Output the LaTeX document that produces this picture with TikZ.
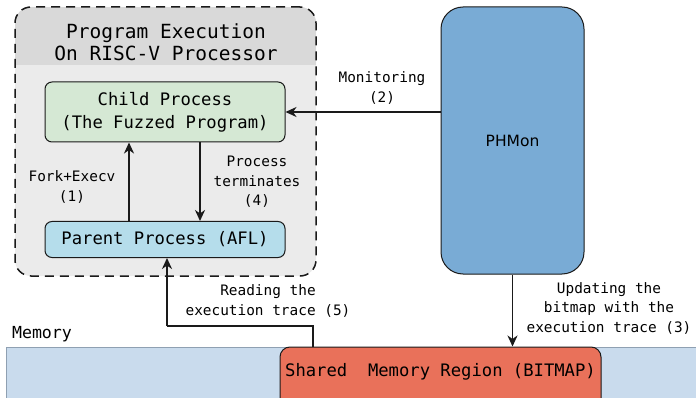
\documentclass[tikz,border=0pt]{standalone}
\usepackage{fontspec}
\setmainfont{DejaVu Sans}
\newfontfamily\monof{DejaVu Sans Mono}
\usetikzlibrary{arrows.meta,calc}
\definecolor{contbody}{HTML}{EBEBEB}
\definecolor{conthead}{HTML}{D9D9D9}
\definecolor{childfill}{HTML}{D5E8D4}
\definecolor{parentfill}{HTML}{B5DDEB}
\definecolor{phmonfill}{HTML}{79ABD5}
\definecolor{memfill}{HTML}{C9DBED}
\definecolor{memline}{HTML}{8FA0B2}
\definecolor{shmfill}{HTML}{E9715A}
\definecolor{edge}{HTML}{1A1A1A}
\tikzset{
  procbox/.style={draw=edge, line width=1pt, rounded corners=7pt, minimum width=240pt, align=center, inner sep=0pt,
    font=\monof\fontsize{17.2}{23}\selectfont},
  lbl/.style={align=center, inner sep=0pt, font=\monof\fontsize{14.4}{19.5}\selectfont},
  arr/.style={draw=edge, line width=1.9pt, -{Stealth[length=11pt,width=10pt,inset=3.5pt]}},
  plain/.style={draw=edge, line width=1.9pt},
}
\begin{document}
\begin{tikzpicture}[x=1pt,y=-1pt]
\useasboundingbox (0,0) rectangle (696,398);
\fill[white] (0,0) rectangle (696,398);
% container
\node[fill=contbody, rounded corners=16pt,
  minimum width=301pt, minimum height=269pt, inner sep=0pt,
  path picture={\fill[conthead, sharp corners] (path picture bounding box.north west) rectangle ([yshift=-58pt]path picture bounding box.north east);}]
  (cont) at (165.5,141.5) {};
\node[draw=edge, line width=1.5pt, dash pattern=on 9pt off 6pt, rounded corners=16pt,
  minimum width=301pt, minimum height=269pt, inner sep=0pt] (contline) at (165.5,141.5) {};
\node[align=center, inner sep=0pt, font=\monof\fontsize{19.5}{21.5}\selectfont] (title) at (166,42) {Program Execution\\On RISC-V Processor};
% processes
\node[procbox, fill=childfill, minimum height=60pt] (child) at (165,112) {Child Process\\(The Fuzzed Program)};
\node[procbox, fill=parentfill, minimum height=36pt] (parent) at (165,239.5) {Parent Process (AFL)};
% PHMon
\node[draw=edge, line width=1pt, fill=phmonfill, rounded corners=22pt, minimum width=143pt, minimum height=267pt,
  font=\fontsize{15.5}{18}\selectfont] (phmon) at (512.5,140.5) {PHMon};
% memory
\node[draw=memline, line width=0.8pt, fill=memfill, minimum width=694pt, minimum height=60pt, inner sep=0pt] (mem) at (353,377) {};
\node[lbl, font=\monof\fontsize{16.6}{19}\selectfont] (memlbl) at (42,334) {Memory};
\node[draw=edge, line width=1pt, fill=shmfill, rounded corners=10pt, minimum width=321pt, minimum height=62pt, inner sep=0pt] (shm) at (440.5,378) {};
\node[inner sep=0pt, font=\monof\fontsize{17.2}{20}\selectfont] (shmtext) at (440.5,372) {Shared~\ Memory Region (BITMAP)};
% coordinates
\coordinate (ux) at (129,0);
\coordinate (dx) at (200,0);
\coordinate (rx) at (313,0);
\coordinate (turn) at (167,326);
% connectors
\draw[arr] (parent.north -| ux) -- (child.south -| ux);
\draw[arr] (child.south -| dx) -- (parent.north -| dx);
\draw[arr] (child.east -| phmon.west) -- (child.east);
\draw[arr] (phmon.south) -- (phmon.south |- shm.north);
\draw[plain] (shm.north -| rx) |- (turn);
\draw[arr] (turn) -- (parent.south -| turn);
% labels
\node[lbl] (l1) at (72,187) {Fork+Execv\\(1)};
\node[lbl] (l4) at (257,182) {Process\\terminates\\(4)};
\node[lbl] (l2) at (382,88) {Monitoring\\(2)};
\node[lbl] (l5) at (268,301) {Reading the\\execution trace (5)};
\node[lbl] (l3) at (609,308) {Updating the\\bitmap with the\\execution trace (3)};
\end{tikzpicture}
\end{document}
